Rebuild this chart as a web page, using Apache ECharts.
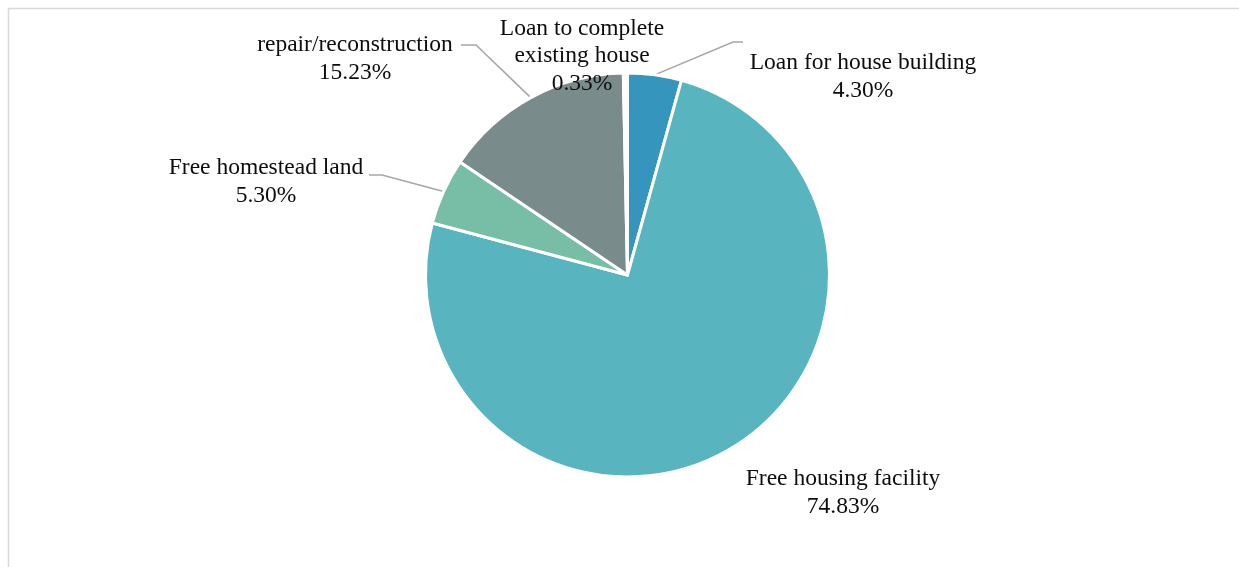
<!DOCTYPE html>
<html>
<head>
<meta charset="utf-8">
<script src="https://cdn.jsdelivr.net/npm/echarts@6/dist/echarts.min.js"></script>
<style>
  html, body { margin: 0; padding: 0; background: #ffffff; }
  #chart { width: 1239px; height: 567px; }
</style>
</head>
<body>
<div id="chart"></div>
<script>
// Housing support received, share of respondents (%), clockwise from the top
const categories = [
  'Loan for house building',
  'Free housing facility',
  'Free homestead land',
  'repair/reconstruction',
  'Loan to complete\nexisting house'
];
const shares = [4.30, 74.83, 5.30, 15.23, 0.33];

const sliceColors = ['#3595bd', '#58b5c0', '#78bea6', '#7a8b8c', '#ffffff'];

// Pie geometry (px)
const CX = 627.5, CY = 275, R = 202;

// Label block centres and leader-line elbows (null = no leader line)
const labelCentres = [[863, 77], [843, 493], [266, 182], [355, 59], [582, 56]];
const leaderElbows = [
  [[733, 42], [743, 42]],
  null,
  [[382, 175], [369, 175]],
  [[476, 45], [461, 45]],
  null
];

const total = shares.reduce((a, b) => a + b, 0);
function edgePoint(i) {
  let cum = 0;
  for (let k = 0; k < i; k++) cum += shares[k];
  const frac = (cum + shares[i] / 2) / total;
  const ang = (90 - frac * 360) * Math.PI / 180;
  return [CX + R * Math.cos(ang), CY - R * Math.sin(ang)];
}

const chart = echarts.init(document.getElementById('chart'));
chart.setOption({
  backgroundColor: '#ffffff',
  animation: false,
  graphic: [{
    type: 'rect',
    shape: { x: 8.5, y: 8.5, width: 1400, height: 800 },
    style: { fill: 'none', stroke: '#d9d9d9', lineWidth: 1.5 },
    silent: true
  }],
  series: [{
    type: 'pie',
    center: [CX, CY],
    radius: R,
    startAngle: 90,
    clockwise: true,
    avoidLabelOverlap: false,
    itemStyle: { borderColor: '#ffffff', borderWidth: 3 },
    label: {
      show: true,
      fontFamily: '"Liberation Serif", "Times New Roman", serif',
      fontSize: 23.5,
      lineHeight: 27.5,
      color: '#0d0d0d',
      align: 'center',
      formatter: p => p.name + '\n' + p.value.toFixed(2) + '%'
    },
    labelLine: {
      show: true,
      lineStyle: { color: '#a6a6a6', width: 1.5 }
    },
    labelLayout: function (params) {
      const i = params.dataIndex;
      const c = labelCentres[i];
      const out = { x: c[0], y: c[1], align: 'center', verticalAlign: 'middle' };
      if (leaderElbows[i]) {
        out.labelLinePoints = [edgePoint(i)].concat(leaderElbows[i]);
      }
      return out;
    },
    data: categories.map((name, i) => ({
      name: name,
      value: shares[i],
      itemStyle: { color: sliceColors[i] },
      labelLine: { show: leaderElbows[i] !== null }
    }))
  }]
});
</script>
</body>
</html>
